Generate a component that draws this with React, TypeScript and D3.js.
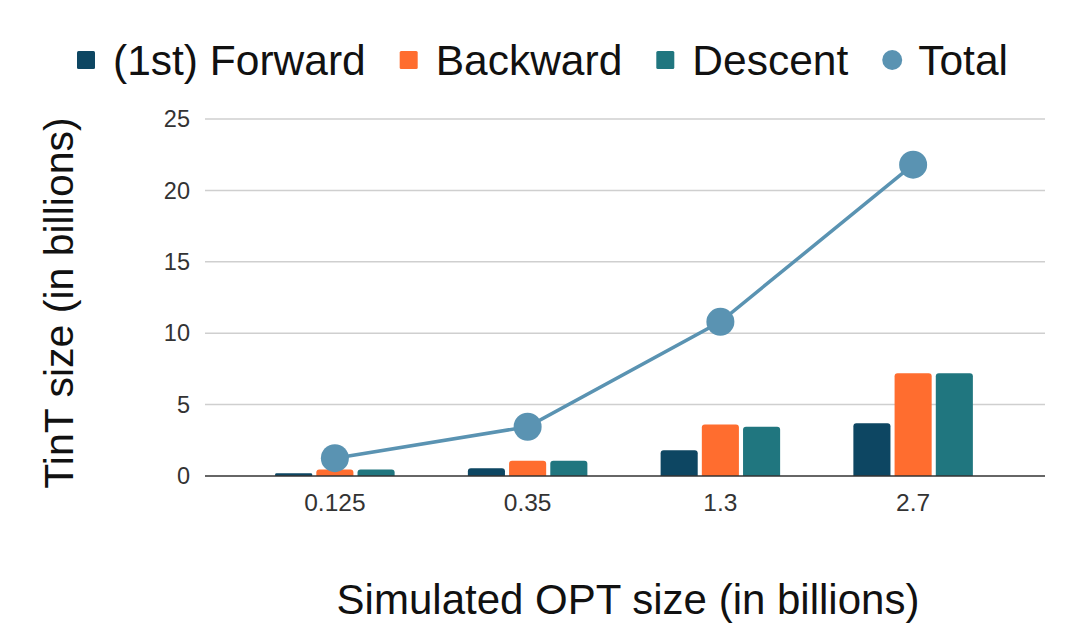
import React, { useEffect, useRef } from "react";
import * as d3 from "d3";

const categories = ["0.125", "0.35", "1.3", "2.7"];
const forward = [0.2, 0.55, 1.8, 3.7];
const backward = [0.45, 1.07, 3.6, 7.2];
const descent = [0.45, 1.07, 3.45, 7.2];
const total = [1.25, 3.45, 10.8, 21.8];
const yTicks = [0, 5, 10, 15, 20, 25];
const seriesNames = ["(1st) Forward", "Backward", "Descent"];
const seriesColors = ["#0d4662", "#ff6d2f", "#20767f"];
const totalName = "Total";
const totalColor = "#5a93b2";

const W = 1069;
const H = 624;
const FONT = "'Liberation Sans', Arial, Helvetica, sans-serif";

export default function App() {
  const ref = useRef<SVGSVGElement | null>(null);

  useEffect(() => {
    const svg = d3.select(ref.current);
    svg.selectAll("*").remove();

    const x0 = d3.scaleBand<string>().domain(categories).range([238.5, 1009.5]).paddingInner(0.38).paddingOuter(0.19);
    const x1 = d3.scaleBand<string>().domain(seriesNames).range([0, x0.bandwidth()]).paddingInner(0.1);
    const y = d3.scaleLinear().domain([0, 25]).range([476, 119]);
    const gridL = 205, gridR = 1045;

    // gridlines
    svg.append("g").selectAll("line").data(yTicks.filter((t) => t !== 0)).join("line")
      .attr("x1", gridL).attr("x2", gridR)
      .attr("y1", (d) => y(d)).attr("y2", (d) => y(d))
      .attr("stroke", "#cfcfcf").attr("stroke-width", 1.5);

    // y tick labels
    svg.append("g").selectAll("text").data(yTicks).join("text")
      .attr("x", 190).attr("y", (d) => y(d)).attr("dy", "0.35em")
      .attr("text-anchor", "end").attr("font-family", FONT).attr("font-size", 23.5).attr("fill", "#333")
      .text((d) => String(d));

    // bars
    const series = [forward, backward, descent];
    const rr = 3;
    series.forEach((vals, si) => {
      svg.append("g").selectAll("path").data(vals).join("path")
        .attr("d", (v, i) => {
          const xl = (x0(categories[i]) as number) + (x1(seriesNames[si]) as number);
          const w = x1.bandwidth();
          const yt = y(v), yb = y(0);
          const r = Math.min(rr, (yb - yt) / 2);
          return `M${xl},${yb}V${yt + r}Q${xl},${yt} ${xl + r},${yt}H${xl + w - r}Q${xl + w},${yt} ${xl + w},${yt + r}V${yb}Z`;
        })
        .attr("fill", seriesColors[si]);
    });

    // baseline
    svg.append("line").attr("x1", gridL).attr("x2", gridR).attr("y1", y(0)).attr("y2", y(0))
      .attr("stroke", "#333").attr("stroke-width", 1.5);

    // x tick labels
    svg.append("g").selectAll("text").data(categories).join("text")
      .attr("x", (d) => (x0(d) as number) + x0.bandwidth() / 2).attr("y", 511)
      .attr("text-anchor", "middle").attr("font-family", FONT).attr("font-size", 24.5).attr("fill", "#333")
      .text((d) => d);

    // total line
    const cx = (i: number) => (x0(categories[i]) as number) + x0.bandwidth() / 2;
    const line = d3.line<number>().x((_, i) => cx(i)).y((d) => y(d));
    svg.append("path").datum(total).attr("d", line).attr("fill", "none")
      .attr("stroke", totalColor).attr("stroke-width", 3.5);
    svg.append("g").selectAll("circle").data(total).join("circle")
      .attr("cx", (_, i) => cx(i)).attr("cy", (d) => y(d)).attr("r", 14).attr("fill", totalColor);

    // axis titles
    svg.append("text").attr("transform", "translate(73,303) rotate(-90)")
      .attr("text-anchor", "middle").attr("font-family", FONT).attr("font-size", 41).attr("fill", "#111")
      .text("TinT size (in billions)");
    svg.append("text").attr("x", 628).attr("y", 614)
      .attr("text-anchor", "middle").attr("font-family", FONT).attr("font-size", 42).attr("fill", "#111")
      .text("Simulated OPT size (in billions)");

    // legend
    const legendItems = [
      ...seriesNames.map((n, i) => ({ name: n, color: seriesColors[i], kind: "rect" })),
      { name: totalName, color: totalColor, kind: "circle" },
    ];
    let lx = 77;
    const ly = 75;
    legendItems.forEach((it) => {
      const g = svg.append("g");
      if (it.kind === "rect") {
        g.append("rect").attr("x", lx).attr("y", 51).attr("width", 18).attr("height", 18).attr("rx", 1.5).attr("fill", it.color);
      } else {
        g.append("circle").attr("cx", lx + 10).attr("cy", 60).attr("r", 10).attr("fill", it.color);
      }
      const t = g.append("text").attr("x", lx + 36).attr("y", ly)
        .attr("font-family", FONT).attr("font-size", 42.5).attr("fill", "#111").text(it.name);
      const tw = (t.node() as SVGTextElement).getComputedTextLength();
      lx = lx + 36 + tw + 34;
    });
  }, []);

  return (
    <svg ref={ref} width={W} height={H} style={{ position: "absolute", left: 0, top: 0, background: "#fff" }} />
  );
}
